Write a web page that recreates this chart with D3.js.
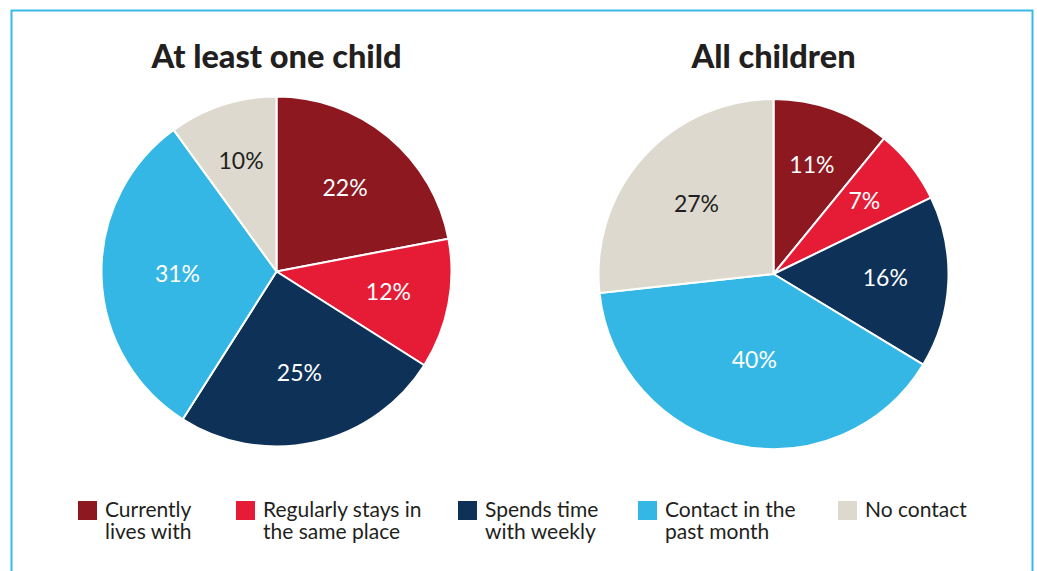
<!DOCTYPE html>
<html>
<head>
<meta charset="utf-8">
<script src="https://cdn.jsdelivr.net/npm/d3@7"></script>
<style>
  body { margin: 0; background: #fff; }
  svg { display: block; }
</style>
</head>
<body>
<div id="chart"></div>
<script>
// categories, shared by both pies
var categories = ["Currently lives with", "Regularly stays in the same place", "Spends time with weekly", "Contact in the past month", "No contact"];
// legend text, split onto two lines like the original
var legendLines = [["Currently", "lives with"], ["Regularly stays in", "the same place"], ["Spends time", "with weekly"], ["Contact in the", "past month"], ["No contact"]];

var titles = ["At least one child", "All children"];
var atLeastOne = [22, 12, 25, 31, 10];
var allChildren = [11, 7, 16, 40, 27];

var colors = ["#8d1820", "#e61c36", "#0e3158", "#35b7e5", "#ddd9cf"];

var width = 1037, height = 571;
var radius = 175;
var centers = [[276.5, 271.5], [773.5, 274]];

var svg = d3.select("#chart")
    .append("svg")
    .attr("width", width)
    .attr("height", height);

// frame (open at the bottom, runs off the page)
svg.append("rect")
    .attr("x", 11.5)
    .attr("y", 10.5)
    .attr("width", 1021)
    .attr("height", 700)
    .attr("fill", "none")
    .attr("stroke", "#3bb9e6")
    .attr("stroke-width", 2);

var colour = d3.scaleOrdinal().domain(categories).range(colors);

var pie = d3.pie()
    .sort(null)
    .value(function(d) { return d.value; });

var arc = d3.arc().innerRadius(0).outerRadius(radius);

// label sits on the centroid of the circular sector
function labelPos(d) {
    var half = (d.endAngle - d.startAngle) / 2;
    var r = 2 * radius * Math.sin(half) / (3 * half);
    var a = (d.startAngle + d.endAngle) / 2;
    return [r * Math.sin(a), -r * Math.cos(a)];
}

[atLeastOne, allChildren].forEach(function(values, i) {
    var data = categories.map(function(c, j) {
        return { cat: c, value: values[j] };
    });

    var g = svg.append("g")
        .attr("transform", "translate(" + centers[i][0] + "," + centers[i][1] + ")");

    svg.append("text")
        .attr("x", centers[i][0])
        .attr("y", 68)
        .attr("text-anchor", "middle")
        .attr("font-family", "Lato, sans-serif")
        .attr("font-weight", 900)
        .attr("font-size", 32.5)
        .attr("fill", "#231f20")
        .text(titles[i]);

    g.selectAll("path")
        .data(pie(data))
        .enter()
        .append("path")
        .attr("d", arc)
        .attr("fill", function(d) { return colour(d.data.cat); })
        .attr("stroke", "#fff")
        .attr("stroke-width", 2)
        .attr("stroke-linejoin", "round");

    g.selectAll(".lbl")
        .data(pie(data))
        .enter()
        .append("text")
        .attr("class", "lbl")
        .attr("transform", function(d) { return "translate(" + labelPos(d) + ")"; })
        .attr("dy", "0.3em")
        .attr("text-anchor", "middle")
        .attr("font-family", "Lato, sans-serif")
        .attr("font-size", 23)
        .attr("fill", function(d) { return d.data.cat == "No contact" ? "#231f20" : "#fff"; })
        .text(function(d) { return d.data.value + "%"; });
});

// legend
var legendX = [78, 236, 458, 638, 838];

var items = svg.selectAll(".legend")
    .data(categories)
    .enter()
    .append("g")
    .attr("class", "legend")
    .attr("transform", function(d, i) { return "translate(" + legendX[i] + ",501)"; });

items.append("rect")
    .attr("width", 19)
    .attr("height", 19)
    .attr("fill", function(d) { return colour(d); });

items.append("text")
    .attr("x", 27)
    .attr("y", 16)
    .attr("font-family", "Lato, sans-serif")
    .attr("font-size", 21)
    .attr("fill", "#231f20")
    .selectAll("tspan")
    .data(function(d, i) { return legendLines[i]; })
    .enter()
    .append("tspan")
    .attr("x", 27)
    .attr("dy", function(d, j) { return j == 0 ? 0 : 21.5; })
    .text(function(d) { return d; });
</script>
</body>
</html>
